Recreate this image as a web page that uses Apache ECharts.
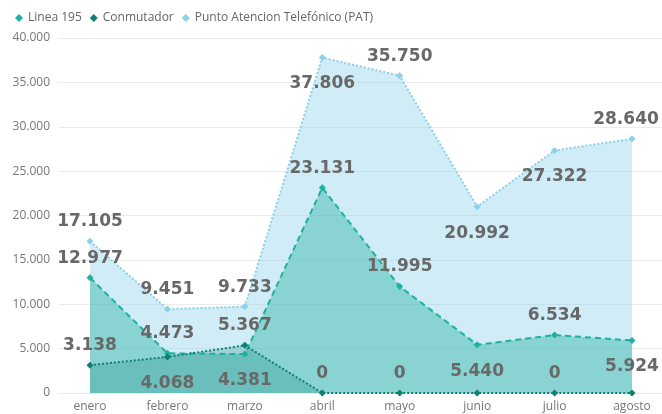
<!DOCTYPE html>
<html>
<head>
<meta charset="utf-8">
<script src="https://cdn.jsdelivr.net/npm/echarts@6/dist/echarts.min.js"></script>
<style>
  html, body { margin: 0; padding: 0; background: #fff; }
  #chart { width: 662px; height: 414px; }
</style>
</head>
<body>
<div id="chart"></div>
<script>
// Monthly call volumes per channel
const months = ['enero', 'febrero', 'marzo', 'abril', 'mayo', 'junio', 'julio', 'agosto'];
const linea195 = [12977, 4473, 4381, 23131, 11995, 5440, 6534, 5924];
const conmutador = [3138, 4068, 5367, 0, 0, 0, 0, 0];
const pat = [17105, 9451, 9733, 37806, 35750, 20992, 27322, 28640];
const yMin = 0, yMax = 40000, yStep = 5000;

// Where each value label sits relative to its point (null = hidden)
const placeLinea = ['top', 'top', 'bottom', 'top', 'top', 'bottom', 'top', 'bottom'];
const placeConm = ['top', 'bottom', 'top', 'top', 'top', null, 'top', null];
const placePat = ['top', 'top', 'top', 'bottom', 'top', 'bottom', 'bottom', 'top'];

const fmt = v => String(Math.round(v)).replace(/\B(?=(\d{3})+(?!\d))/g, '.');

// lastNudge: horizontal shift that keeps a wide final label inside the canvas
function items(values, places, lastNudge) {
  return values.map((v, i) => {
    const p = places[i];
    if (!p) return { value: v, label: { show: false } };
    return {
      value: v,
      label: {
        show: true,
        position: p,
        distance: p === 'top' ? 7 : 14,
        offset: [i === values.length - 1 ? lastNudge : 0, 0]
      }
    };
  });
}

const labelStyle = {
  show: true,
  formatter: p => fmt(p.value),
  fontFamily: 'DejaVu Sans',
  fontWeight: 'bold',
  fontSize: 17,
  lineHeight: 18,
  color: '#686868'
};

const colors = {
  linea: '#1fb0a0',
  conm: '#0e7f72',
  pat: '#8ad0e8'
};

function makeSeries(name, values, places, color, lineType, fillOpacity, lastNudge) {
  return {
    name: name,
    type: 'line',
    xAxisIndex: 0,
    yAxisIndex: 0,
    data: items(values, places, lastNudge),
    symbol: 'diamond',
    symbolSize: 7,
    showAllSymbol: true,
    itemStyle: { color: color },
    lineStyle: { color: color, width: 2, type: lineType },
    areaStyle: { color: color, opacity: fillOpacity },
    label: labelStyle,
    emphasis: { disabled: true },
    animation: false
  };
}

const chart = echarts.init(document.getElementById('chart'), null, { renderer: 'canvas' });
chart.setOption({
  animation: false,
  legend: {
    data: ['Linea 195', 'Conmutador', 'Punto Atencion Telefónico (PAT)'],
    left: 10,
    top: 7,
    icon: 'diamond',
    itemWidth: 8,
    itemHeight: 8,
    itemGap: 8,
    textStyle: { fontFamily: 'Open Sans', fontSize: 12, color: '#666' }
  },
  grid: [
    { left: 90, right: 30, top: 38, bottom: 21 },
    { left: 58, right: 0, top: 38, bottom: 21 }
  ],
  xAxis: [
    {
      type: 'category',
      gridIndex: 0,
      data: months,
      boundaryGap: false,
      axisLine: { show: false },
      axisTick: { show: false },
      axisLabel: { margin: 8, fontFamily: 'Open Sans', fontSize: 12, color: '#777' },
      splitLine: { show: false }
    },
    {
      type: 'category',
      gridIndex: 1,
      data: months,
      show: false
    }
  ],
  yAxis: [
    {
      type: 'value',
      gridIndex: 0,
      min: yMin, max: yMax, interval: yStep,
      show: false,
      splitLine: { show: false }
    },
    {
      type: 'value',
      gridIndex: 1,
      min: yMin, max: yMax, interval: yStep,
      axisLine: { show: false },
      axisTick: { show: false },
      axisLabel: {
        margin: 8,
        formatter: v => fmt(v),
        fontFamily: 'Open Sans', fontSize: 12, color: '#777'
      },
      splitLine: { lineStyle: { color: '#ebebeb', width: 1 } }
    }
  ],
  series: [
    makeSeries('Punto Atencion Telefónico (PAT)', pat, placePat, colors.pat, [2, 2], 0.4, -6),
    makeSeries('Linea 195', linea195, placeLinea, colors.linea, [6, 4], 0.4, 0),
    makeSeries('Conmutador', conmutador, placeConm, colors.conm, [2, 2], 0.25, 0)
  ]
});
</script>
</body>
</html>
